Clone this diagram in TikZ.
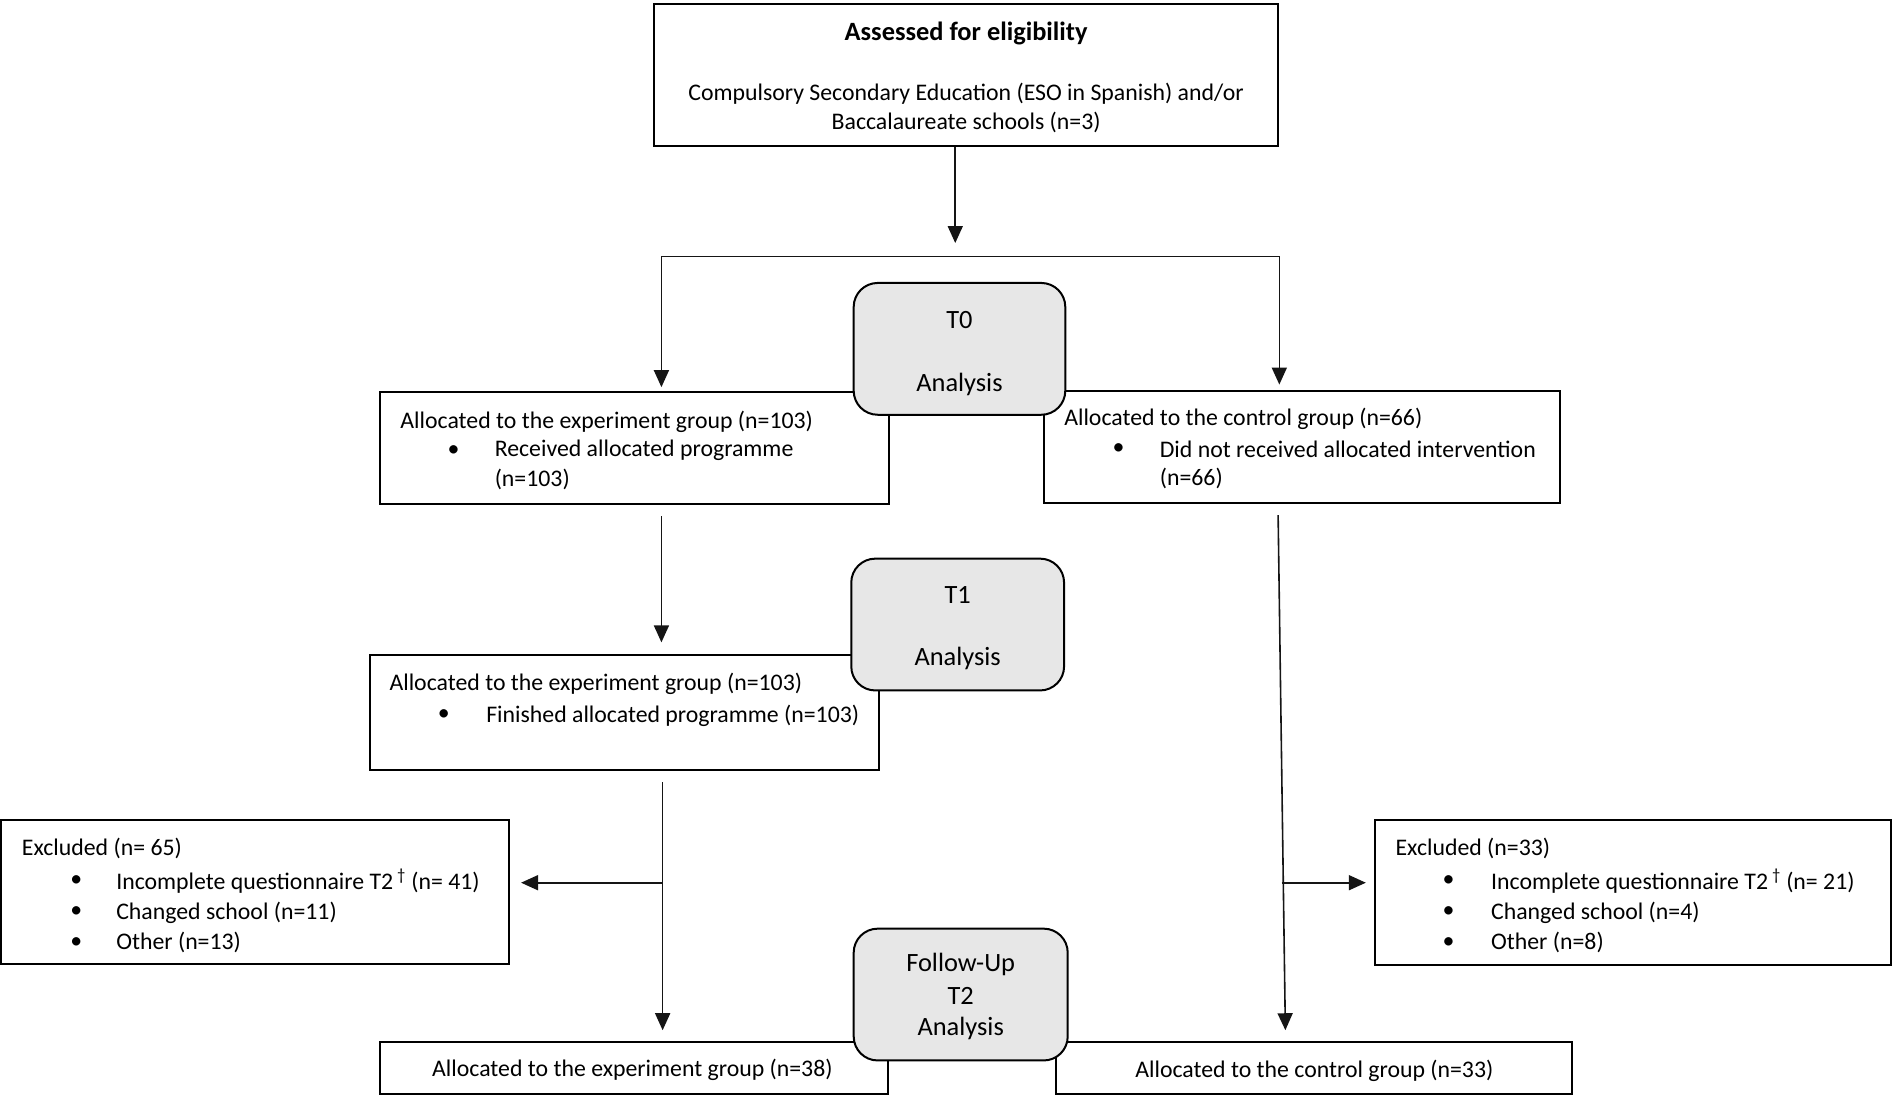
\documentclass[tikz,border=0pt]{standalone}
\usepackage{fontspec}
\setmainfont{Carlito}
\usetikzlibrary{arrows.meta,fit,calc}
\definecolor{boxgray}{HTML}{E7E7E7}
\definecolor{linegray}{HTML}{151515}
\begin{document}
\begin{tikzpicture}[x=1.2092pt,y=-1.2092pt,
  box/.style={draw, line width=2pt, inner sep=0pt},
  rbox/.style={draw, line width=2pt, rounded corners=24pt, fill=boxgray, inner sep=0pt},
  txt/.style={inner sep=0pt, yshift=-2pt, font=\fontsize{23.8}{28}\selectfont},
  rtxt/.style={inner sep=0pt, yshift=-2pt, font=\fontsize{26.4}{30}\selectfont},
  ttl/.style={inner sep=0pt, yshift=-2pt, font=\fontsize{26.4}{30}\selectfont\bfseries},
  conn/.style={line width=1.6pt, draw=linegray},
  arr/.style={conn, -{Triangle[length=17pt,width=15pt]}, fill=linegray}
]
\useasboundingbox (0,0) rectangle (1568,906.4);

% rectangular boxes
\node[box, fit={(541,3) (1057,121)}] (top) {};
\node[box, fit={(314,324) (735,417)}] (eg1) {};
\node[box, fit={(863,323) (1290,416)}] (cg1) {};
\node[box, fit={(306,542) (727,637)}] (eg2) {};
\node[box, fit={(1,678) (421,797)}] (exl) {};
\node[box, fit={(1137,678) (1564,798)}] (exr) {};
\node[box, fit={(314,862) (734,905)}] (eg3) {};
\node[box, fit={(873,862) (1300,905)}] (cg3) {};

% rounded analysis boxes
\node[rbox, fit={(706,234) (881,343)}] (t0) {};
\node[rbox, fit={(704,462) (880,571)}] (t1) {};
\node[rbox, fit={(706,768) (883,877)}] (t2) {};

% connectors
\coordinate (a0) at (790,201);
\draw[arr] (top.south -| a0) -- (a0);
\coordinate (sl) at (547,212);
\coordinate (sr) at (1058,212);
\draw[conn] (sl) -- (sr);
\draw[arr, shorten >=3.6pt] (sl) -- (sl |- eg1.north);
\draw[arr, shorten >=5pt] (sr) -- (sr |- cg1.north);
\coordinate (b1) at (547,427);
\draw[arr, shorten >=12pt] (b1) -- (b1 |- eg2.north);
\coordinate (b2) at (548,647);
\coordinate (b3) at (548,852);
\draw[arr] (b2) -- (b3);
\coordinate (c1) at (1057,426);
\coordinate (c2) at (1063,852);
\draw[arr] (c1) -- (c2);
\coordinate (hl) at (548,730);
\draw[arr, shorten >=11pt] (hl) -- (hl -| exl.east);
\coordinate (hr) at (1060,730);
\draw[arr, shorten >=8pt] (hr) -- (hr -| exr.west);

% texts: top
\node[ttl] (top1) at (799,26) {Assessed for eligibility};
\node[txt] (top2) at (799,76) {Compulsory Secondary Education (ESO in Spanish) and/or};
\node[txt] (top3) at (799,100) {Baccalaureate schools (n=3)};

% T0
\node[rtxt] (t0a) at (793.5,263) {T0};
\node[rtxt] (t0b) at (793.5,316) {Analysis};

% experiment group 1
\node[txt, anchor=west] (eg1a) at (331,347) {Allocated to the experiment group (n=103)};
\node[txt] (eg1b) at (375,371) {•};
\node[txt, anchor=west] (eg1c) at (409,371) {Received allocated programme};
\node[txt, anchor=west] (eg1d) at (409,395) {(n=103)};

% control group 1
\node[txt, anchor=west] (cg1a) at (880,345) {Allocated to the control group (n=66)};
\node[txt] (cg1b) at (925,370) {•};
\node[txt, anchor=west] (cg1c) at (959,370) {Did not received allocated intervention};
\node[txt, anchor=west] (cg1d) at (959,394) {(n=66)};

% T1
\node[rtxt] (t1a) at (792,490) {T1};
\node[rtxt] (t1b) at (792,543) {Analysis};

% experiment group 2
\node[txt, anchor=west] (eg2a) at (322,564) {Allocated to the experiment group (n=103)};
\node[txt] (eg2b) at (367,590) {•};
\node[txt, anchor=west] (eg2c) at (402,590) {Finished allocated programme (n=103)};

% excluded left
\node[txt, anchor=west] (exla) at (18,700) {Excluded (n= 65)};
\node[txt] (exlb1) at (63,727) {•};
\node[txt] (exlb2) at (63,753) {•};
\node[txt] (exlb3) at (63,778) {•};
\node[txt, anchor=west] (exlc1) at (96,727) {Incomplete questionnaire T2\,\textsuperscript{†} (n= 41)};
\node[txt, anchor=west] (exlc2) at (96,753) {Changed school (n=11)};
\node[txt, anchor=west] (exlc3) at (96,778) {Other (n=13)};

% excluded right
\node[txt, anchor=west] (exra) at (1154,700) {Excluded (n=33)};
\node[txt] (exrb1) at (1198,727) {•};
\node[txt] (exrb2) at (1198,753) {•};
\node[txt] (exrb3) at (1198,778) {•};
\node[txt, anchor=west] (exrc1) at (1233,727) {Incomplete questionnaire T2\,\textsuperscript{†} (n= 21)};
\node[txt, anchor=west] (exrc2) at (1233,753) {Changed school (n=4)};
\node[txt, anchor=west] (exrc3) at (1233,778) {Other (n=8)};

% T2
\node[rtxt] (t2a) at (794.5,796) {Follow-Up};
\node[rtxt] (t2b) at (794.5,822) {T2};
\node[rtxt] (t2c) at (794.5,849) {Analysis};

% bottom boxes
\node[txt] (eg3a) at (523,883) {Allocated to the experiment group (n=38)};
\node[txt] (cg3a) at (1087,884) {Allocated to the control group (n=33)};
\end{tikzpicture}
\end{document}
